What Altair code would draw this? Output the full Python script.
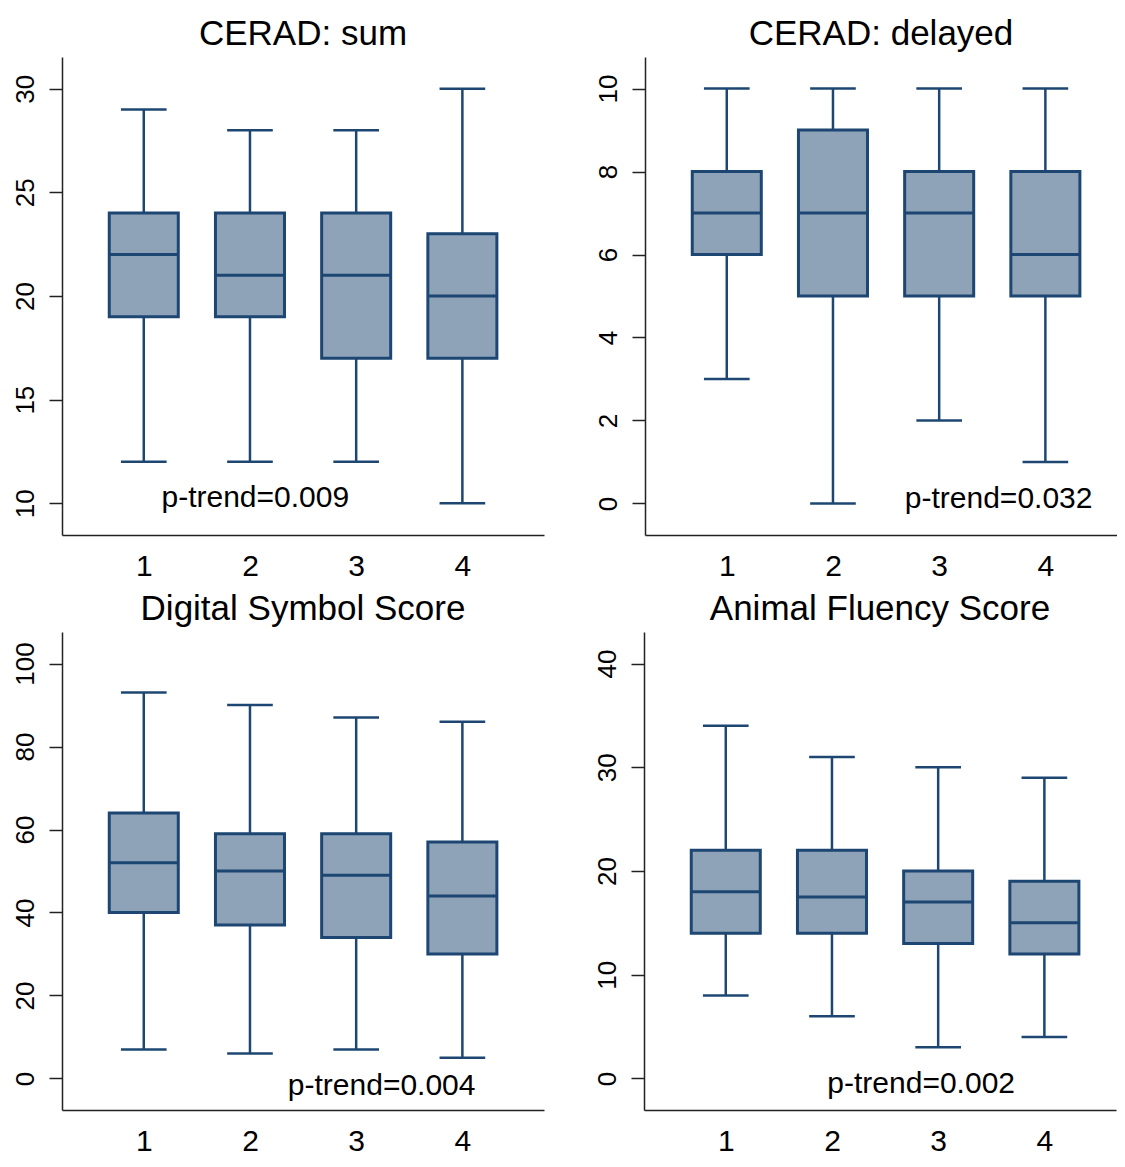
import altair as alt
import pandas as pd

groups = [1, 2, 3, 4]
panel_titles = ["CERAD: sum", "CERAD: delayed", "Digital Symbol Score", "Animal Fluency Score"]
ptrend_text = ["p-trend=0.009", "p-trend=0.032", "p-trend=0.004", "p-trend=0.002"]

# five-number summaries per panel (lower whisker, Q1, median, Q3, upper whisker)
sum_lo = [12, 12, 12, 10]
sum_q1 = [19, 19, 17, 17]
sum_med = [22, 21, 21, 20]
sum_q3 = [24, 24, 24, 23]
sum_hi = [29, 28, 28, 30]

del_lo = [3, 0, 2, 1]
del_q1 = [6, 5, 5, 5]
del_med = [7, 7, 7, 6]
del_q3 = [8, 9, 8, 8]
del_hi = [10, 10, 10, 10]

dss_lo = [7, 6, 7, 5]
dss_q1 = [40, 37, 34, 30]
dss_med = [52, 50, 49, 44]
dss_q3 = [64, 59, 59, 57]
dss_hi = [93, 90, 87, 86]

afs_lo = [8, 6, 3, 4]
afs_q1 = [14, 14, 13, 12]
afs_med = [18, 17.5, 17, 15]
afs_q3 = [22, 22, 20, 19]
afs_hi = [34, 31, 30, 29]

y_ticks = [[10, 15, 20, 25, 30], [0, 2, 4, 6, 8, 10], [0, 20, 40, 60, 80, 100], [0, 10, 20, 30, 40]]

# layout / style settings
y_domains = [[8.47, 31.53], [-0.76, 10.76], [-7.6, 107.6], [-3.04, 43.04]]
annot_pos = [(2.05, 10.24), (3.56, 0.10), (3.24, -1.84), (2.84, -0.57)]
FILL = "#8ea3b8"
EDGE = "#1d4772"
AXC = "#222222"
FONT = "Liberation Sans"
W_LEFT, W_RIGHT, H = 482, 472, 478
PX_PER_UNIT = 106.2

stats = [
    (sum_lo, sum_q1, sum_med, sum_q3, sum_hi),
    (del_lo, del_q1, del_med, del_q3, del_hi),
    (dss_lo, dss_q1, dss_med, dss_q3, dss_hi),
    (afs_lo, afs_q1, afs_med, afs_q3, afs_hi),
]


def panel(i, width, x_extent):
    lo, q1, med, q3, hi = stats[i]
    df = pd.DataFrame({"g": groups, "lo": lo, "q1": q1, "med": med, "q3": q3, "hi": hi})
    xmax = 0.23 + width / PX_PER_UNIT
    xs = alt.Scale(domain=[0.23, xmax], nice=False, zero=False)
    ys = alt.Scale(domain=y_domains[i], nice=False, zero=False)
    xaxis = alt.Axis(values=groups, title=None, grid=False, ticks=False, labelFontSize=30,
                     labelFont=FONT, labelColor="black", labelPadding=16, domainColor=AXC,
                     domainWidth=1.5, minExtent=x_extent, maxExtent=x_extent, format="d",
                     labelFlush=False)
    yaxis = alt.Axis(values=y_ticks[i], title=None, grid=False, tickSize=13, tickWidth=1.5,
                     tickColor=AXC, domainColor=AXC, domainWidth=1.5, labelAngle=270,
                     labelAlign="center", labelBaseline="bottom", labelFontSize=26,
                     labelFont=FONT, labelColor="black", labelPadding=11,
                     minExtent=50, maxExtent=50, labelFlush=False)

    base = alt.Chart(df).transform_calculate(
        bl="datum.g - 0.325", br="datum.g + 0.325",
        cl="datum.g - 0.215", cr="datum.g + 0.215")

    lower = base.mark_rule(color=EDGE, strokeWidth=2.5).encode(
        x=alt.X("g:Q", scale=xs, axis=xaxis),
        y=alt.Y("lo:Q", scale=ys, axis=yaxis), y2="q1:Q")
    upper = base.mark_rule(color=EDGE, strokeWidth=2.5).encode(
        x=alt.X("g:Q", scale=xs), y=alt.Y("q3:Q", scale=ys), y2="hi:Q")
    cap_lo = base.mark_rule(color=EDGE, strokeWidth=2.5).encode(
        x=alt.X("cl:Q", scale=xs), x2="cr:Q", y=alt.Y("lo:Q", scale=ys))
    cap_hi = base.mark_rule(color=EDGE, strokeWidth=2.5).encode(
        x=alt.X("cl:Q", scale=xs), x2="cr:Q", y=alt.Y("hi:Q", scale=ys))
    box = base.mark_rect(fill=FILL, stroke=EDGE, strokeWidth=3).encode(
        x=alt.X("bl:Q", scale=xs), x2="br:Q", y=alt.Y("q1:Q", scale=ys), y2="q3:Q")
    median = base.mark_rule(color=EDGE, strokeWidth=3).encode(
        x=alt.X("bl:Q", scale=xs), x2="br:Q", y=alt.Y("med:Q", scale=ys))

    ax, ay = annot_pos[i]
    tdf = pd.DataFrame({"x": [ax], "y": [ay], "t": [ptrend_text[i]]})
    text = alt.Chart(tdf).mark_text(fontSize=30, font=FONT, color="black", baseline="middle").encode(
        x=alt.X("x:Q", scale=xs), y=alt.Y("y:Q", scale=ys), text="t:N")

    ttl = alt.Chart(pd.DataFrame({"t": [panel_titles[i]]})).mark_text(
        fontSize=35, font=FONT, color="black", align="center", baseline="alphabetic").encode(
        x=alt.value(width / 2), y=alt.value(-12), text="t:N")

    return alt.layer(lower, upper, cap_lo, cap_hi, box, median, text, ttl).properties(
        width=width, height=H)


top = alt.hconcat(panel(0, W_LEFT, 45), panel(1, W_RIGHT, 45), spacing=50)
bottom = alt.hconcat(panel(2, W_LEFT, 46), panel(3, W_RIGHT, 46), spacing=50)
chart = alt.vconcat(top, bottom, spacing=11).properties(
    padding={"left": 3, "top": 9, "right": 0, "bottom": 0},
    background="white"
).configure_view(strokeWidth=0)

chart.save("out.html", embed_options={"renderer": "svg", "actions": False})
